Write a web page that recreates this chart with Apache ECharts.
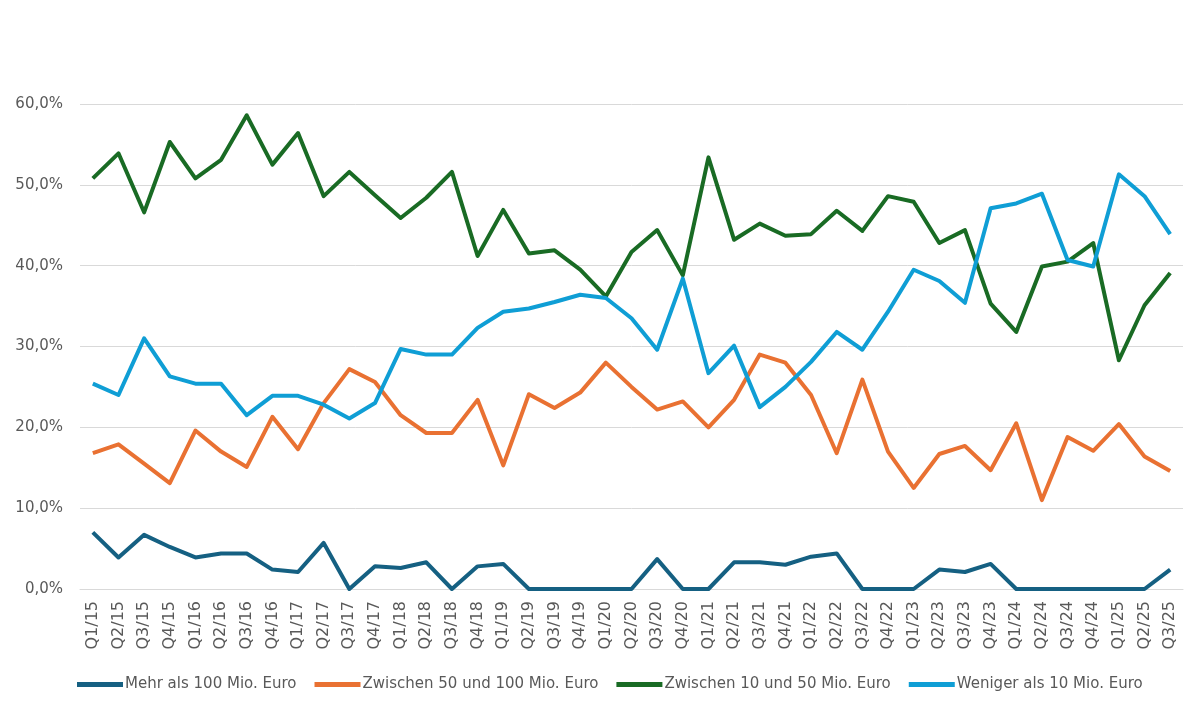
<!DOCTYPE html>
<html>
<head>
<meta charset="utf-8">
<script src="https://cdn.jsdelivr.net/npm/echarts@6/dist/echarts.min.js"></script>
<style>
html,body{margin:0;padding:0;background:#fff;}
#c{width:1198px;height:708px;}
</style>
</head>
<body>
<div id="c"></div>
<script>
const quarters = ["Q1/15","Q2/15","Q3/15","Q4/15","Q1/16","Q2/16","Q3/16","Q4/16","Q1/17","Q2/17","Q3/17","Q4/17","Q1/18","Q2/18","Q3/18","Q4/18","Q1/19","Q2/19","Q3/19","Q4/19","Q1/20","Q2/20","Q3/20","Q4/20","Q1/21","Q2/21","Q3/21","Q4/21","Q1/22","Q2/22","Q3/22","Q4/22","Q1/23","Q2/23","Q3/23","Q4/23","Q1/24","Q2/24","Q3/24","Q4/24","Q1/25","Q2/25","Q3/25"];

const seriesNames = ["Mehr als 100 Mio. Euro","Zwischen 50 und 100 Mio. Euro","Zwischen 10 und 50 Mio. Euro","Weniger als 10 Mio. Euro"];

const mehrAls100 = [7.0,3.9,6.7,5.2,3.9,4.4,4.4,2.4,2.1,5.7,0,2.8,2.6,3.3,0,2.8,3.1,0,0,0,0,0,3.7,0,0,3.3,3.3,3.0,4.0,4.4,0,0,0,2.4,2.1,3.1,0,0,0,0,0,0,2.4];

const zw50und100 = [16.8,17.9,15.5,13.1,19.6,17.0,15.1,21.3,17.3,23.0,27.2,25.6,21.5,19.3,19.3,23.4,15.3,24.1,22.4,24.3,28.0,25.0,22.2,23.2,20.0,23.4,29.0,28.0,24.0,16.8,25.9,17.0,12.5,16.7,17.7,14.7,20.5,11.0,18.8,17.1,20.4,16.4,14.6];

const zw10und50 = [50.8,53.9,46.6,55.3,50.8,53.1,58.6,52.5,56.4,48.6,51.6,48.7,45.9,48.4,51.6,41.2,46.9,41.5,41.9,39.5,36.2,41.7,44.4,38.8,53.4,43.2,45.2,43.7,43.9,46.8,44.3,48.6,47.9,42.8,44.4,35.3,31.8,39.9,40.5,42.8,28.3,35.1,39.1];

const wenigerAls10 = [25.4,24.0,31.0,26.3,25.4,25.4,21.5,23.9,23.9,22.8,21.1,23.0,29.7,29.0,29.0,32.3,34.3,34.7,35.5,36.4,36.0,33.5,29.6,38.4,26.7,30.1,22.5,25.0,28.1,31.8,29.6,34.3,39.5,38.1,35.4,47.1,47.7,48.9,40.7,39.9,51.3,48.6,43.9];

const colors = ["#156082","#E97132","#196B24","#0F9ED5"];
const dataSets = [mehrAls100, zw50und100, zw10und50, wenigerAls10];

const FONT = '"DejaVu Sans", sans-serif';
const chart = echarts.init(document.getElementById('c'), null, {renderer:'canvas'});
chart.setOption({
  animation:false,
  backgroundColor:'#ffffff',
  grid:{left:80, right:15, top:104, bottom:119, containLabel:false},
  legend:{
    bottom:11, left:72,
    itemWidth:46, itemHeight:5, itemGap:18,
    icon:'rect',
    textStyle:{fontFamily:FONT, fontSize:15, color:'#595959', padding:[0,0,0,-3]},
    data:seriesNames
  },
  xAxis:{
    type:'category', data:quarters, boundaryGap:true,
    axisLine:{show:true, lineStyle:{color:'#d9d9d9', width:1}},
    axisTick:{show:false},
    axisLabel:{rotate:90, interval:0, fontFamily:FONT, fontSize:16, color:'#595959', margin:12}
  },
  yAxis:{
    type:'value', min:0, max:60, interval:10,
    axisLine:{show:false}, axisTick:{show:false},
    splitLine:{lineStyle:{color:'#d9d9d9', width:1}},
    axisLabel:{fontFamily:FONT, fontSize:15, color:'#595959', margin:17,
      formatter:v=>v.toFixed(1).replace('.',',')+'%'}
  },
  series: seriesNames.map((n,i)=>({
    name:n, type:'line', data:dataSets[i], showSymbol:false, symbol:'none',
    lineStyle:{color:colors[i], width:4, join:'round'},
    itemStyle:{color:colors[i]}
  }))
});
</script>
</body>
</html>
